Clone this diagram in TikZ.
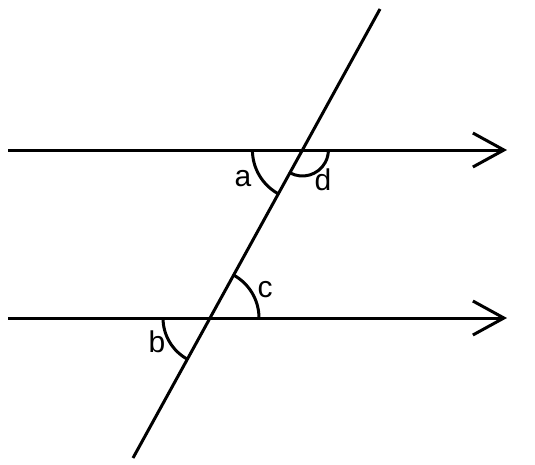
\documentclass[tikz,border=0pt]{standalone}
\usepackage{fontspec}
\setmainfont{Liberation Sans}
\usetikzlibrary{arrows.meta}

\begin{document}
\begin{tikzpicture}
[every node/.style={inner sep=0pt}, line/.style={line width=3pt, color=black}, angarc/.style={line width=3pt, color=black}, lbl/.style={font=\fontsize{30}{36}\selectfont}]
\useasboundingbox (0pt, 0pt) rectangle (535pt, -464pt);
\coordinate (L1) at (8pt, -150pt);
\coordinate (R1) at (507pt, -150pt);
\coordinate (L2) at (8pt, -318pt);
\coordinate (R2) at (507pt, -318pt);
\coordinate (T) at (380pt, -9pt);
\coordinate (B) at (133pt, -458pt);
\coordinate (X1) at (302.4pt, -150pt);
\coordinate (X2) at (210.0pt, -318pt);
\node (a) [lbl] at (243pt, -179pt) {a};
\node (d) [lbl] at (323pt, -180pt) {d};
\node (c) [lbl] at (265pt, -290pt) {c};
\node (b) [lbl] at (157pt, -342pt) {b};
\draw [line, -{Straight Barb[length=31pt, width=34pt]}] (L1) to (R1);
\draw [line, -{Straight Barb[length=31pt, width=34pt]}] (L2) to (R2);
\draw [line] (T) to (B);
\draw [angarc] (X1) ++(180:50pt) arc [start angle=180, end angle=241.3, radius=50pt];
\draw [angarc] (X1) ++(241.3:26pt) arc [start angle=241.3, end angle=360, radius=26pt];
\draw [angarc] (X2) ++(0:49pt) arc [start angle=0, end angle=61.3, radius=49pt];
\draw [angarc] (X2) ++(180:47pt) arc [start angle=180, end angle=241.3, radius=47pt];
\end{tikzpicture}
\end{document}
